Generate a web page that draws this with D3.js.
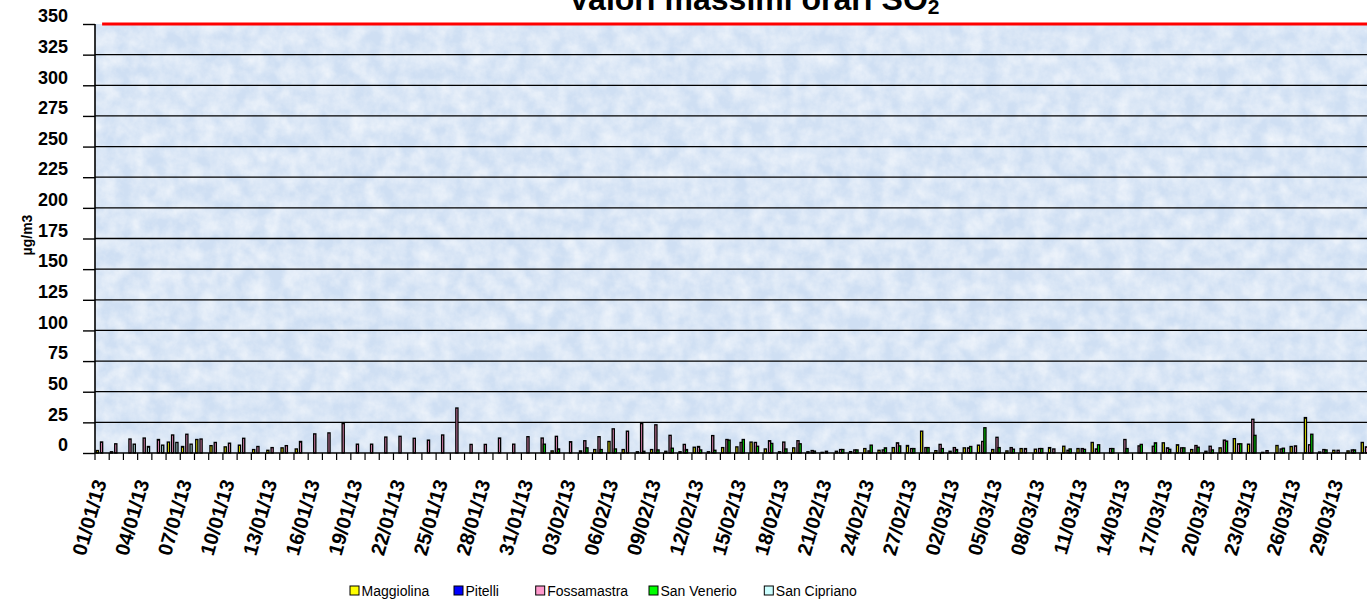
<!DOCTYPE html>
<html><head><meta charset="utf-8">
<script src="https://cdn.jsdelivr.net/npm/d3@7"></script>
<style>
body{margin:0;background:#fff}
svg{display:block}
text{font-family:"Liberation Sans",Arial,sans-serif}
</style>
</head><body>
<svg id="chart" width="1367" height="600"></svg>
<script>
// ---------- DATA ----------
const days = d3.timeDay.range(new Date(2013,0,1), new Date(2013,3,1)); // 01/01/13 .. 31/03/13
const fmtDay = d3.timeFormat("%d/%m/%y");
const seriesNames = ["Maggiolina","Pitelli","Fossamastra","San Venerio","San Cipriano"];
const seriesColors = ["#ffff00","#0000ff","#ff99cc","#00ff00","#ccffff"];
const yTicks = [0,25,50,75,100,125,150,175,200,225,250,275,300,325,350];
const limitValue = 350;
const yTitle = "µg/m3";

const maggiolina = [
 2,1,null,null,null,8.9,5.3,11,6,5,
 6.4,2.8,2.2,4.2,3.3,null,null,null,null,null,
 null,null,null,null,null,null,null,null,null,null,
 null,null,1.7,null,1.7,2.8,9.4,2.8,1,2.8,
 1.4,1,4.7,1,4.4,5,8.9,3.3,1,4.2,
 1,0.5,1.4,1.1,3.6,2.2,4.4,6.1,17.8,1.9,
 1.4,4.2,6.4,2.8,1.7,3.6,3.1,4.4,5.5,3.6,
 8.6,null,null,null,null,8.3,6.7,2.8,1.4,4.2,
 11.7,7.2,0.5,6.1,5.3,28.9,0.8,2.2,1.7,8.6];
const pitelli = [
 null,null,null,null,null,null,null,null,null,null,
 null,null,null,null,null,null,null,null,null,null,
 null,null,null,null,null,null,null,null,null,null,
 null,null,null,null,null,null,null,null,null,null,
 null,null,null,null,null,null,null,null,null,null,
 null,null,null,null,null,null,null,null,null,null,
 null,null,null,null,null,null,null,null,null,null,
 null,null,null,null,null,null,null,null,null,null,
 null,null,null,null,null,null,null,null,null,null];
const fossamastra = [
 9,7.5,11.4,12.2,11,14.7,15.3,11.4,8.6,8,
 12,5.3,4.4,6,9.4,15.6,16.4,24,7.2,7.2,
 13,13.6,12,10.5,14.7,36.7,7,7,12.2,7.2,
 13.3,12.2,13.6,9.2,10,13.3,19.7,17.8,24,23,
 14.4,7,5.3,14.2,11,8.6,8.6,10,8.9,10,
 2,1.4,2.8,2.5,1.7,2.5,8.3,3.6,4.4,7,
 4.4,4.2,9.4,12.8,4.4,3.6,3.6,3.3,2.2,3.6,
 3.3,3.6,11,5.8,5.5,4.2,4.2,6.1,5.5,10.5,
 7.5,27.5,1.9,3.3,5.8,6.7,2.8,2.2,2.5,5];
const sanVenerio = [
 null,null,null,null,null,null,null,null,null,null,
 null,null,null,null,null,null,null,null,null,null,
 null,null,null,null,null,null,null,null,null,null,
 null,7.2,3.3,null,4.2,2.8,3.3,null,1.4,2.5,
 3.9,2.8,2.5,2.2,10.5,11,5.5,7.8,3.3,7.5,
 1.5,null,2.8,2.5,6.4,4.2,5.8,3.6,4.4,3.6,
 2.8,5.3,20.6,4.4,3.1,null,3.6,null,3.3,3,
 6.7,3.6,3.6,7,8.3,3,4.2,4.7,2.5,9.7,
 7.5,14.4,null,3.9,null,15.3,2.5,null,2.5,null];
const sanCipriano = [
 null,null,7.2,5.3,6.4,8.6,7.2,null,null,null,
 null,null,null,null,null,null,null,null,null,null,
 null,null,null,null,null,null,null,null,null,null,
 null,null,null,null,null,null,null,null,null,null,
 null,null,null,null,null,null,null,null,null,null,
 null,null,null,null,null,null,null,null,null,null,
 null,null,null,null,null,null,null,null,null,null,
 null,null,null,null,null,null,null,null,null,null,
 null,null,null,null,null,null,null,null,null,null];
const seriesValues = [maggiolina, pitelli, fossamastra, sanVenerio, sanCipriano];

// ---------- LAYOUT ----------
(function draw(){
const svg = d3.select("#chart");
const plotLeft = 95, plotTop = 24, plotBase = 453, dayStep = 14.213;
const plotRight = plotLeft + days.length * dayStep;
const labels = days.map(fmtDay);

const x = d3.scaleBand().domain(labels).range([plotLeft, plotRight]).padding(0);
const xs = d3.scaleBand().domain(seriesNames).range([0, x.bandwidth()])
  .paddingInner(0).paddingOuter(0.835).align(0.35);
const y = d3.scaleLinear().domain([0, 350]).range([plotBase, plotTop]);

// texture (blue tissue paper look)
const defs = svg.append("defs");
const f = defs.append("filter").attr("id","paper").attr("x",0).attr("y",0).attr("width","100%").attr("height","100%")
  .attr("filterUnits","userSpaceOnUse");
f.append("feTurbulence").attr("type","fractalNoise").attr("baseFrequency","0.06").attr("numOctaves",4).attr("seed",3);
f.append("feColorMatrix").attr("type","matrix")
 .attr("values","0 0 0 0 1  0 0 0 0 1  0 0 0 0 1  1.4 0 0 0 -0.35");
defs.append("clipPath").attr("id","clip").append("rect").attr("x",0).attr("y",0).attr("width",1367).attr("height",600);

const g = svg.append("g").attr("clip-path","url(#clip)");
g.append("rect").attr("x",plotLeft).attr("y",y(350)).attr("width",plotRight-plotLeft).attr("height",y(0)-y(350)).attr("fill","#cfdff3");
g.append("rect").attr("x",plotLeft).attr("y",y(350)).attr("width",plotRight-plotLeft).attr("height",y(0)-y(350))
 .attr("fill","#fff").attr("filter","url(#paper)").attr("opacity",0.7);

// gridlines
g.append("g").selectAll("line").data(yTicks.filter(v => v > 0 && v < limitValue)).join("line")
 .attr("x1",plotLeft).attr("x2",plotRight).attr("y1",d=>y(d)).attr("y2",d=>y(d))
 .attr("stroke","#000").attr("stroke-width",1.3);

// bars
seriesNames.forEach((name, k) => {
  const vals = seriesValues[k];
  g.append("g").selectAll("rect")
   .data(labels.map((d,i)=>({d, v: vals[i]})).filter(o => o.v != null))
   .join("rect")
   .attr("x", o => x(o.d) + xs(name))
   .attr("y", o => y(o.v))
   .attr("width", xs.bandwidth())
   .attr("height", o => y(0) - y(o.v))
   .attr("fill", seriesColors[k])
   .attr("stroke","#000").attr("stroke-width",1.35);
});

// limit line
g.append("path")
 .datum(labels)
 .attr("d", d3.line().x(d => x(d) + x.bandwidth()/2).y(() => y(limitValue)))
 .attr("fill","none").attr("stroke","#ff0000").attr("stroke-width",3);

// x axis line + ticks
g.append("line").attr("x1",plotLeft).attr("x2",plotRight).attr("y1",plotBase).attr("y2",plotBase).attr("stroke","#000").attr("stroke-width",1.5);
const bounds = labels.map(d => x(d)).concat([plotRight]);
g.append("g").selectAll("line").data(bounds).join("line")
 .attr("x1",d=>d).attr("x2",d=>d).attr("y1",plotBase).attr("y2",plotBase+7)
 .attr("stroke","#000").attr("stroke-width",1.2);

// x labels
g.append("g").selectAll("text").data(labels.filter((d,i)=> i % 3 === 0)).join("text")
 .attr("transform", d => `translate(${x(d) + x.bandwidth()/2 - 2},480) rotate(-74)`)
 .attr("text-anchor","end").attr("dy","0.35em")
 .attr("font-size",20).attr("font-weight","bold").attr("fill","#000")
 .text(d => d);

// y axis
const yAxis = d3.axisLeft(y).tickValues(yTicks).tickSize(12).tickPadding(15).tickFormat(d3.format("d"));
const ya = svg.append("g").attr("transform",`translate(${plotLeft},0)`).call(yAxis);
ya.select(".domain").attr("stroke","#000").attr("stroke-width",1.6).attr("d",`M0,${y(350)}V${plotBase}`);
ya.selectAll(".tick line").attr("stroke","#000").attr("stroke-width",1.4);
ya.selectAll(".tick text").attr("y",-8).attr("font-size",18).attr("font-weight","bold")
  .attr("font-family","Liberation Sans, Arial, sans-serif").attr("fill","#000");

// y title
svg.append("text").attr("transform","translate(32,235) rotate(-90)")
 .attr("text-anchor","middle").attr("font-size",14).attr("font-weight","bold").text(yTitle);

// title
const t = svg.append("text").attr("x",754).attr("y",10).attr("text-anchor","middle")
 .attr("font-size",32).attr("font-weight","bold");
t.append("tspan").text("Valori massimi orari SO");
t.append("tspan").attr("dy",4).attr("font-size",21).text("2");

// legend
const legendX = [350, 454, 535.7, 649, 764.3];
const lg = svg.append("g").selectAll("g").data(seriesNames).join("g")
 .attr("transform",(d,i)=>`translate(${legendX[i]},586)`);
lg.append("rect").attr("width",9).attr("height",9).attr("fill",(d,i)=>seriesColors[i]).attr("stroke","#000").attr("stroke-width",1);
lg.append("text").attr("x",11.5).attr("y",9.5).attr("font-size",14).text(d=>d);
})();
</script>
</body></html>
